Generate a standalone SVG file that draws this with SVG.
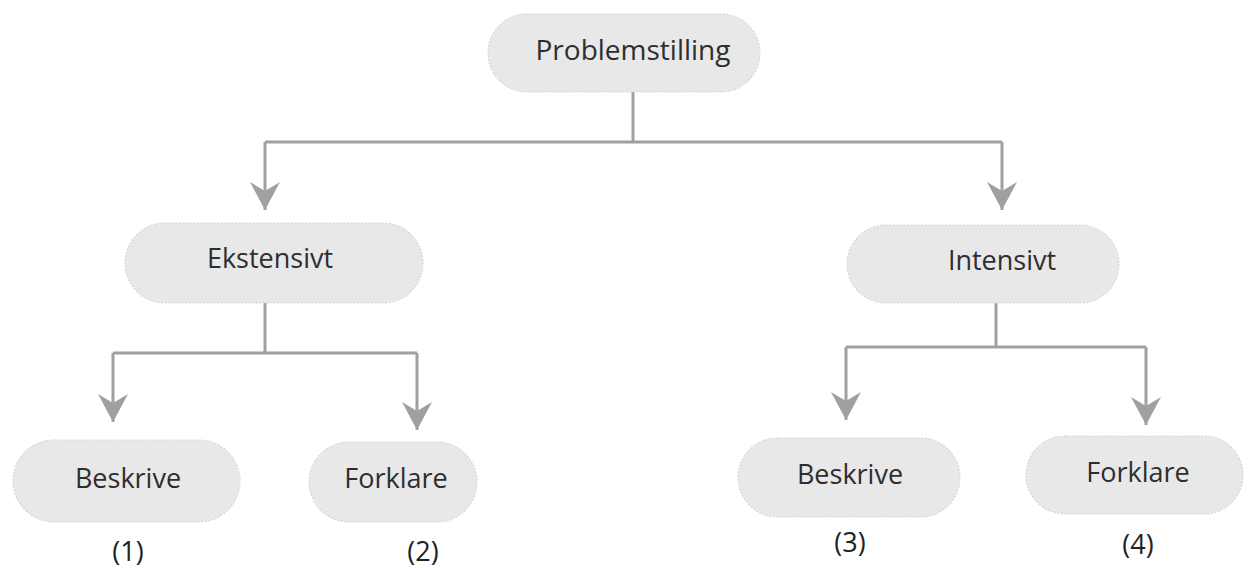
<svg xmlns="http://www.w3.org/2000/svg" width="1249" height="568" viewBox="0 0 1249 568">
<style>
.pill{fill:#e8e8e8;stroke:#d6d6d6;stroke-width:1.2;stroke-dasharray:2 1.5}
.lbl{font-family:"Open Sans","Noto Sans",sans-serif;font-size:27px;fill:#2e2e2e;text-anchor:middle}
.num{font-family:"Open Sans","Noto Sans",sans-serif;font-size:27px;fill:#222;text-anchor:middle}
.con{fill:none;stroke:#a0a0a0;stroke-width:3}
</style>
<defs>
<marker id="arr" markerUnits="userSpaceOnUse" viewBox="0 0 28 30" markerWidth="28" markerHeight="30" refX="28" refY="15" orient="auto">
<path d="M0,0 L9,15 L0,30 L28,15 Z" fill="#a0a0a0"/>
</marker>
</defs>
<g id="connectors">
<path class="con" d="M633,92 V142"/>
<path class="con" d="M265,142 H1002"/>
<path class="con" d="M265,142 V210" marker-end="url(#arr)"/>
<path class="con" d="M1002,142 V210" marker-end="url(#arr)"/>
<path class="con" d="M265,303 V353"/>
<path class="con" d="M113,353 H417"/>
<path class="con" d="M113,353 V422" marker-end="url(#arr)"/>
<path class="con" d="M417,353 V430" marker-end="url(#arr)"/>
<path class="con" d="M996,303 V347"/>
<path class="con" d="M846,347 H1146"/>
<path class="con" d="M846,347 V420" marker-end="url(#arr)"/>
<path class="con" d="M1146,347 V425" marker-end="url(#arr)"/>
</g>
<g id="problemstilling">
<rect class="pill" x="488" y="14" width="272" height="78" rx="39"/>
<text class="lbl" x="633" y="60" style="font-size:28px">Problemstilling</text>
</g>
<g id="ekstensivt">
<rect class="pill" x="125" y="223" width="298" height="80" rx="40"/>
<text class="lbl" x="270" y="268">Ekstensivt</text>
</g>
<g id="intensivt">
<rect class="pill" x="847" y="225" width="272" height="78" rx="39"/>
<text class="lbl" x="1002" y="270">Intensivt</text>
</g>
<g id="beskrive1">
<rect class="pill" x="13" y="440" width="227" height="82" rx="41"/>
<text class="lbl" x="128" y="488">Beskrive</text>
<text class="num" x="128" y="561">(1)</text>
</g>
<g id="forklare2">
<rect class="pill" x="309" y="442" width="168" height="80" rx="40"/>
<text class="lbl" x="396" y="488">Forklare</text>
<text class="num" x="423" y="561">(2)</text>
</g>
<g id="beskrive3">
<rect class="pill" x="738" y="438" width="222" height="79" rx="39.5"/>
<text class="lbl" x="850" y="484">Beskrive</text>
<text class="num" x="850" y="552">(3)</text>
</g>
<g id="forklare4">
<rect class="pill" x="1026" y="436" width="217" height="78" rx="39"/>
<text class="lbl" x="1138" y="482">Forklare</text>
<text class="num" x="1138" y="554">(4)</text>
</g>
</svg>
